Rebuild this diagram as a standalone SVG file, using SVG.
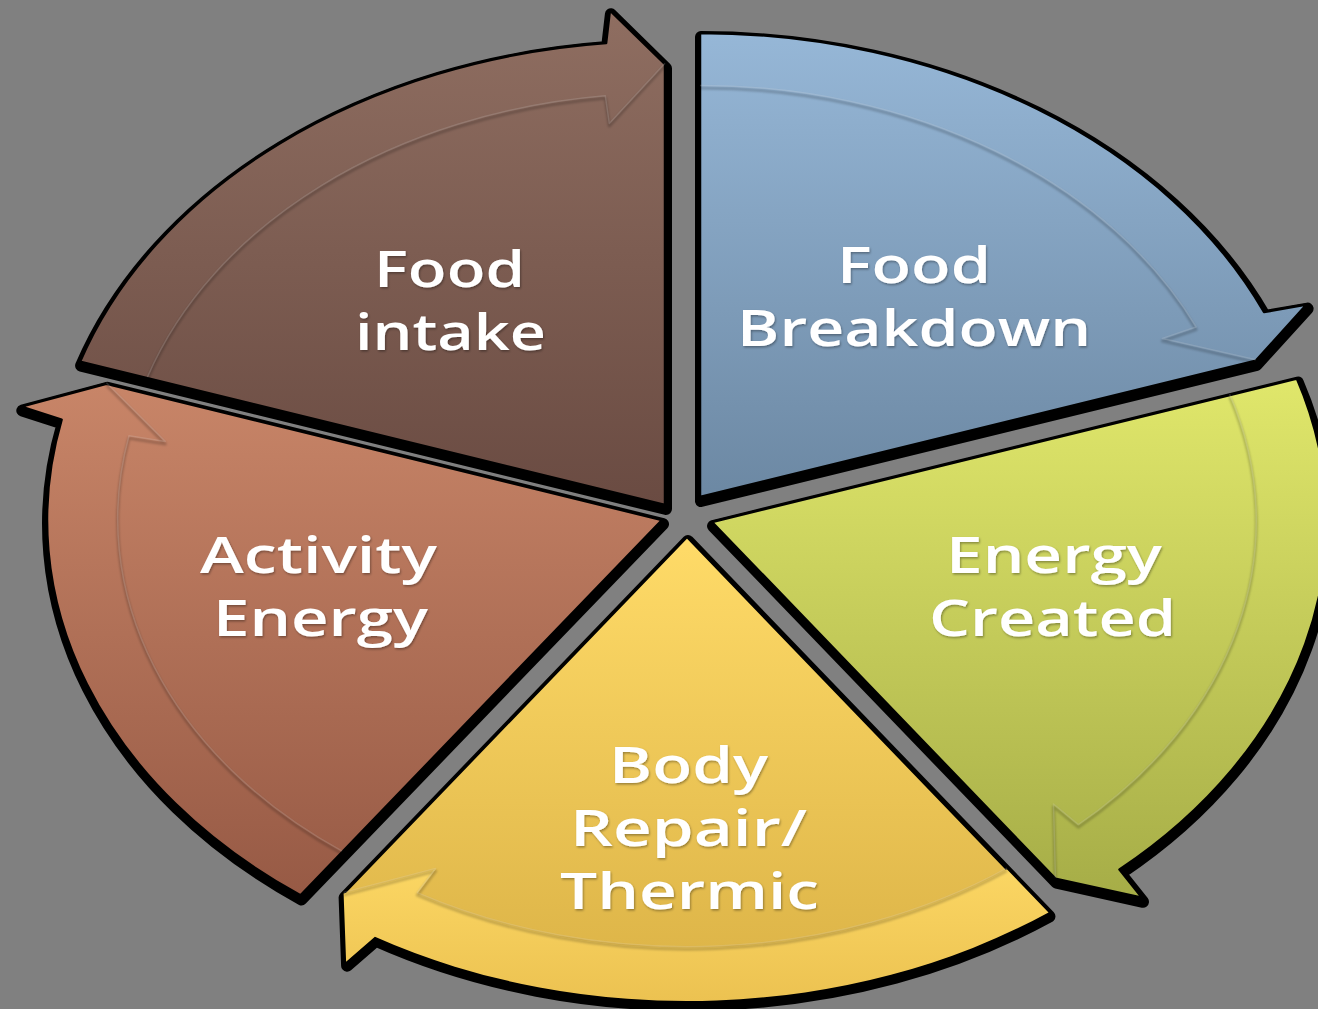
<svg xmlns="http://www.w3.org/2000/svg" xmlns:xlink="http://www.w3.org/1999/xlink" width="1318" height="1009" viewBox="0 0 1318 1009">
  <style>
    .shadow { fill: #000; stroke: #000; stroke-width: 12; stroke-linejoin: round; }
    .seg { stroke: #000; stroke-width: 2.5; stroke-linejoin: round; }
    .emb-dark { fill: none; stroke: #000; stroke-opacity: 0.2; stroke-width: 3; stroke-linejoin: round; }
    .emb-light { fill: none; stroke: #fff; stroke-opacity: 0.15; stroke-width: 1.5; stroke-linejoin: round; }
    .lbl { font-family: "Open Sans", "Liberation Sans", sans-serif; font-size: 50px; font-weight: 600; fill: #fff; }
  </style>
  <defs>
    <linearGradient id="g-intake" x1="0" y1="0" x2="0" y2="1">
      <stop offset="0" stop-color="#8f6e61"/>
      <stop offset="1" stop-color="#6a4b42"/>
    </linearGradient>
    <linearGradient id="g-blue" x1="0" y1="0" x2="0" y2="1">
      <stop offset="0" stop-color="#96b7d7"/>
      <stop offset="1" stop-color="#6c88a3"/>
    </linearGradient>
    <linearGradient id="g-green" x1="0" y1="0" x2="0" y2="1">
      <stop offset="0" stop-color="#e0e76b"/>
      <stop offset="1" stop-color="#a6ad47"/>
    </linearGradient>
    <linearGradient id="g-yellow" x1="0" y1="0" x2="0" y2="1">
      <stop offset="0" stop-color="#ffdb68"/>
      <stop offset="1" stop-color="#dab145"/>
    </linearGradient>
    <linearGradient id="g-yband" x1="0" y1="0" x2="0" y2="1">
      <stop offset="0" stop-color="#fbd663"/>
      <stop offset="1" stop-color="#ecc251"/>
    </linearGradient>
    <linearGradient id="g-activity" x1="0" y1="0" x2="0" y2="1">
      <stop offset="0" stop-color="#c88568"/>
      <stop offset="1" stop-color="#975a45"/>
    </linearGradient>
    <filter id="soft" x="-5%" y="-5%" width="110%" height="110%">
      <feGaussianBlur stdDeviation="1.2"/>
    </filter>
    <filter id="tshadow" x="-10%" y="-20%" width="120%" height="140%">
      <feDropShadow dx="1" dy="1.5" stdDeviation="1" flood-color="#000" flood-opacity="0.35"/>
    </filter>
    <path id="p-intake" d="M665,505 L80.1,361.6 A615,464 0 0 1 606.1,43.1 L609.9,10.3 L665,64.2 Z"/>
    <path id="p-blue" d="M700,497 L700,33 A615,464 0 0 1 1264,312 L1306.6,304.6 L1255.7,360.8 Z"/>
    <path id="p-green" d="M712,522 L1296.9,378.6 A615,464 0 0 1 1119.5,869.5 L1142,897.8 L1055.4,878.6 Z"/>
    <path id="p-yellow" d="M687,537 L1048.5,912.4 A615,464 0 0 1 374.9,936.8 L346.1,961.7 L343.6,893.6 Z"/>
    <path id="p-activity" d="M662,520 L300.5,895.4 A615,464 0 0 1 61.6,419.6 L21.3,406.6 L106.4,383.8 Z"/>
    <path id="e-intake" d="M147.4,378.1 A544.3,410.6 0 0 1 605.3,96.8 L609.3,124.5 L665,64.2"/>
    <path id="e-blue" d="M700,86.4 A544.3,410.6 0 0 1 1196.1,328 L1162.4,339.5 L1255.7,360.8"/>
    <path id="e-green" d="M1229.6,395.1 A544.3,410.6 0 0 1 1078.3,825.7 L1053.5,805.1 L1055.4,878.6"/>
    <path id="e-yellow" d="M1006.9,869.2 A544.3,410.6 0 0 1 417.3,893.7 L435.6,869.5 L343.6,893.6"/>
    <path id="e-activity" d="M342.1,852.2 A544.3,410.6 0 0 1 129,436.7 L165.2,442.4 L106.4,383.8"/>
  </defs>

  <rect x="0" y="0" width="1318" height="1009" fill="#808080"/>

  <g id="food-intake">
    <use xlink:href="#p-intake" class="shadow" transform="translate(1,4)"/>
    <use xlink:href="#p-intake" class="seg" fill="url(#g-intake)"/>
    <use xlink:href="#e-intake" class="emb-dark" filter="url(#soft)" transform="translate(0,1.5)"/>
    <use xlink:href="#e-intake" class="emb-light" transform="translate(0,-1)"/>
    <g filter="url(#tshadow)">
      <text class="lbl" x="374" y="287" textLength="151" lengthAdjust="spacingAndGlyphs">Food</text>
      <text class="lbl" x="355" y="350" textLength="191" lengthAdjust="spacingAndGlyphs">intake</text>
    </g>
  </g>

  <g id="food-breakdown">
    <use xlink:href="#p-blue" class="shadow" transform="translate(1,4)"/>
    <use xlink:href="#p-blue" class="seg" fill="url(#g-blue)"/>
    <use xlink:href="#e-blue" class="emb-dark" filter="url(#soft)" transform="translate(0,1.5)"/>
    <use xlink:href="#e-blue" class="emb-light" transform="translate(0,-1)"/>
    <g filter="url(#tshadow)">
      <text class="lbl" x="837" y="283" textLength="154" lengthAdjust="spacingAndGlyphs">Food</text>
      <text class="lbl" x="737" y="346" textLength="354" lengthAdjust="spacingAndGlyphs">Breakdown</text>
    </g>
  </g>

  <g id="energy-created">
    <use xlink:href="#p-green" class="shadow" transform="translate(1,4)"/>
    <use xlink:href="#p-green" class="seg" fill="url(#g-green)"/>
    <use xlink:href="#e-green" class="emb-dark" filter="url(#soft)" transform="translate(0,1.5)"/>
    <use xlink:href="#e-green" class="emb-light" transform="translate(0,-1)"/>
    <g filter="url(#tshadow)">
      <text class="lbl" x="946" y="573" textLength="216" lengthAdjust="spacingAndGlyphs">Energy</text>
      <text class="lbl" x="929" y="636" textLength="247" lengthAdjust="spacingAndGlyphs">Created</text>
    </g>
  </g>

  <g id="body-repair">
    <use xlink:href="#p-yellow" class="shadow" transform="translate(1,4)"/>
    <use xlink:href="#p-yellow" class="seg" fill="url(#g-yellow)"/>
    <path d="M1048.5,912.4 A615,464 0 0 1 374.9,936.8 L346.1,961.7 L343.6,893.6 L435.6,869.5 L417.3,893.7 A544.3,410.6 0 0 0 1006.9,869.2 Z" fill="url(#g-yband)"/>
    <use xlink:href="#e-yellow" class="emb-dark" filter="url(#soft)" transform="translate(0,1.5)"/>
    <use xlink:href="#e-yellow" class="emb-light" transform="translate(0,-1)"/>
    <g filter="url(#tshadow)">
      <text class="lbl" x="609" y="783" textLength="159" lengthAdjust="spacingAndGlyphs">Body</text>
      <text class="lbl" x="570" y="846" textLength="237" lengthAdjust="spacingAndGlyphs">Repair/</text>
      <text class="lbl" x="560" y="909" textLength="259" lengthAdjust="spacingAndGlyphs">Thermic</text>
    </g>
  </g>

  <g id="activity-energy">
    <use xlink:href="#p-activity" class="shadow" transform="translate(1,4)"/>
    <use xlink:href="#p-activity" class="seg" fill="url(#g-activity)"/>
    <use xlink:href="#e-activity" class="emb-dark" filter="url(#soft)" transform="translate(0,1.5)"/>
    <use xlink:href="#e-activity" class="emb-light" transform="translate(0,-1)"/>
    <g filter="url(#tshadow)">
      <text class="lbl" x="200" y="573" textLength="237" lengthAdjust="spacingAndGlyphs">Activity</text>
      <text class="lbl" x="213" y="636" textLength="215" lengthAdjust="spacingAndGlyphs">Energy</text>
    </g>
  </g>

  <g id="connectors"/>
</svg>
